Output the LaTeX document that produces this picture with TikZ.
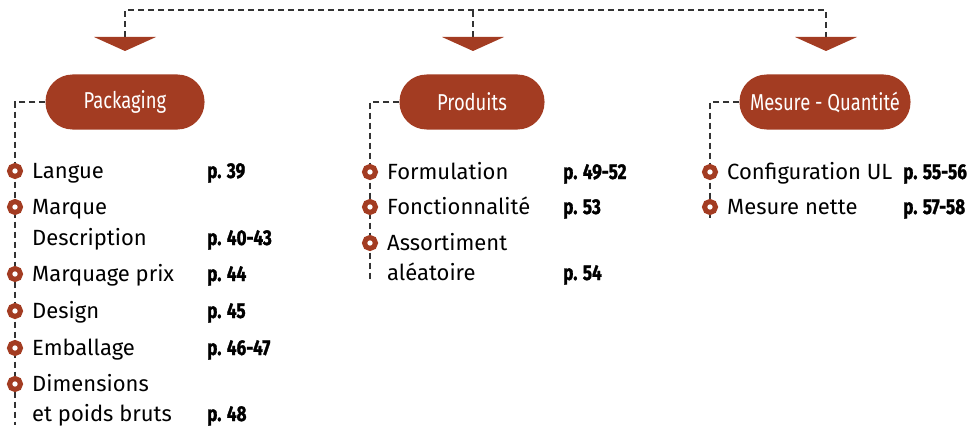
\documentclass[tikz,border=0pt]{standalone}
\usepackage{fontspec}
\setmainfont{Fira Sans}
\newfontfamily\condfont{Fira Sans}[FakeStretch=0.8, BoldFeatures={FakeBold=1.2}]
\usetikzlibrary{positioning}
\definecolor{brique}{RGB}{163,60,34}
\definecolor{trait}{RGB}{51,51,51}
\tikzset{
    pill/.style = {rectangle, rounded corners=27pt, fill=brique, text=white,
        minimum height=55pt, inner sep=0pt,
        font=\condfont\fontsize{23}{27}\selectfont},% en-tete de colonne
    dline/.style = {draw=trait, line width=1.2pt, dash pattern=on 6pt off 4pt},
    puce/.style = {circle, fill=white, draw=brique, line width=5pt,
        inner sep=0pt, minimum size=11pt},% puce de liste
    item/.style = {anchor=base west, inner sep=0pt,
        font=\fontsize{22}{26}\selectfont},
    pagenum/.style = {anchor=base west, inner sep=0pt,
        font=\condfont\bfseries\fontsize{21.5}{26}\selectfont},
}

\begin{document}
\begin{tikzpicture}[x=1pt,y=-1pt]
\useasboundingbox (0,0) rectangle (980,428);

% fleches du haut
\coordinate (a1) at (125,37);
\coordinate (a2) at (473,37);
\coordinate (a3) at (826,37);
\coordinate (haut) at (473,10);
\draw[dline] (a1) |- (haut) -| (a3);
\draw[dline] (a2) -- (haut);
\foreach \a in {a1,a2,a3}
    \fill[brique] (\a) ++(-31,0) -- ++(62,0) -- ++(-31,14) -- cycle;

% en-tetes
\node[pill, minimum width=159pt] (pack) at (125,102) {Packaging};
\node[pill, minimum width=145pt] (prod) at (472,102) {Produits};
\node[pill, minimum width=171pt] (mes) at (825,102) {Mesure - Quantit\'e};

\coordinate (packbas) at (15,425);
\coordinate (prodbas) at (370,280);
\coordinate (mesbas) at (710,218);
\draw[dline] (pack.west) -| (packbas);
\draw[dline] (prod.west) -| (prodbas);
\draw[dline] (mes.west) -| (mesbas);

% Packaging
\node[puce] (p1) at (15,171) {};
\node[item] (t1) at (32,178) {Langue};
\node[pagenum] at (207,178) {p. 39};
\node[puce] (p2) at (15,207) {};
\node[item] (t2) at (32,214) {Marque};
\node[item] (t2b) at (32,245) {Description};
\node[pagenum] at (207,245) {p. 40-43};
\node[puce] (p3) at (15,274) {};
\node[item] (t3) at (32,281) {Marquage prix};
\node[pagenum] at (207,281) {p. 44};
\node[puce] (p4) at (15,311) {};
\node[item] (t4) at (32,318) {Design};
\node[pagenum] at (207,318) {p. 45};
\node[puce] (p5) at (15,348) {};
\node[item] (t5) at (32,355) {Emballage};
\node[pagenum] at (207,355) {p. 46-47};
\node[puce] (p6) at (15,384) {};
\node[item] (t6) at (32,391) {Dimensions};
\node[item] (t6b) at (32,421) {et poids bruts};
\node[pagenum] at (207,421) {p. 48};

% Produits
\node[puce] (q1) at (370,172) {};
\node[item] (u1) at (387,179) {Formulation};
\node[pagenum] at (563,179) {p. 49-52};
\node[puce] (q2) at (370,207) {};
\node[item] (u2) at (387,214) {Fonctionnalit\'e};
\node[pagenum] at (563,214) {p. 53};
\node[puce] (q3) at (370,243) {};
\node[item] (u3) at (387,250) {Assortiment};
\node[item] (u3b) at (387,280) {al\'eatoire};
\node[pagenum] at (563,280) {p. 54};

% Mesure - Quantite
\node[puce] (r1) at (710,172) {};
\node[item] (v1) at (727,179) {Configuration UL};
\node[pagenum] at (903,179) {p. 55-56};
\node[puce] (r2) at (710,207) {};
\node[item] (v2) at (727,214) {Mesure nette};
\node[pagenum] at (903,214) {p. 57-58};
\end{tikzpicture}
\end{document}
